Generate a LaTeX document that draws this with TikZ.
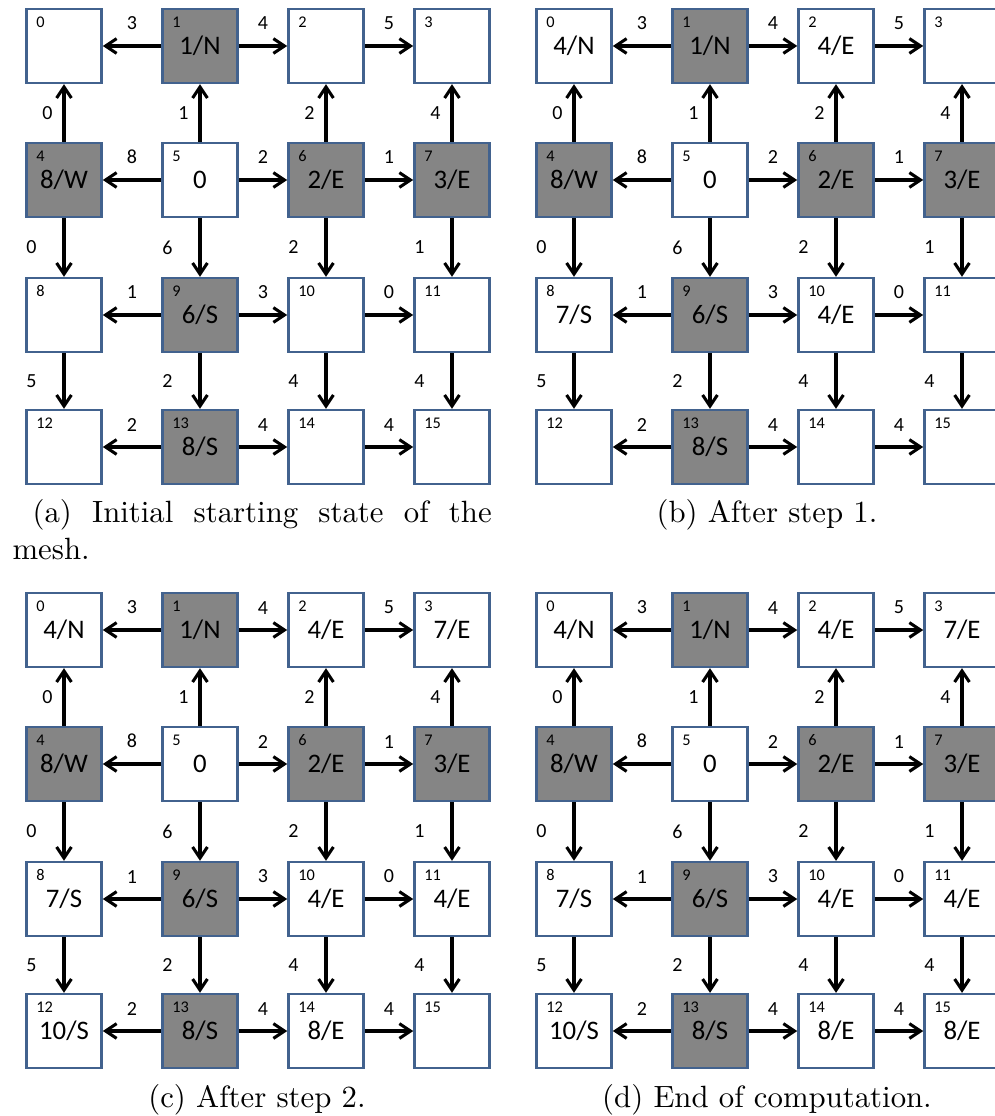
\documentclass[tikz,border=0pt]{standalone}
\usepackage{fontspec}
\newfontfamily\cellfont{Carlito}
\usetikzlibrary{arrows.meta}

\definecolor{cellblue}{HTML}{42628E}
\definecolor{cellgray}{HTML}{858585}

\tikzset{
  cell/.style={draw=cellblue, line width=0.8pt, minimum width=24.4pt,
    minimum height=24pt, inner sep=0pt,
    font=\cellfont\fontsize{8.7}{10}\selectfont},
  idle/.style={cell, fill=white},
  busy/.style={cell, fill=cellgray},
  idx/.style={anchor=north west, inner sep=0pt,
    font=\cellfont\fontsize{5.3}{6}\selectfont},
  wgt/.style={inner sep=0pt, font=\cellfont\fontsize{6.5}{8}\selectfont},
  flow/.style={line width=1pt, -{Straight Barb[length=3.6pt,width=4.8pt]}},
  subcap/.style={inner sep=0pt, font=\fontsize{10}{12}\selectfont}
}

% one 4x4 mesh: name prefix, shift, list of cell style/label
\newcommand{\meshpanel}[4]{%
  \begin{scope}[shift={(#2,#3)}]
    \foreach \s/\lab [count=\i from 0] in {#4} {
      \pgfmathsetmacro\cx{{64,200,326,452}[mod(\i,4)]}
      \pgfmathsetmacro\cy{{46,180,315,447}[int(\i/4)]}
      \node[\s] (#1\i) at (\cx,\cy) {\lab};
      \node[idx] (#1i\i) at ([shift={(3.4pt,-2.7pt)}]#1\i.north west) {\i};
    }
    % east/west links
    \foreach \f/\t/\w in {1/0/3,1/2/4,2/3/5,5/4/8,5/6/2,6/7/1,9/8/1,9/10/3,
        10/11/0,13/12/2,13/14/4,14/15/4}
      \draw[flow] (#1\f) -- (#1\t) node[wgt, midway, above=4.7pt] {\w};
    % north links
    \foreach \f/\t/\w in {4/0/0,5/1/1,6/2/2,7/3/4}
      \draw[flow] (#1\f) -- (#1\t) node[wgt, midway, left=3.2pt] {\w};
    % south links
    \foreach \f/\t/\w in {4/8/0,5/9/6,6/10/2,7/11/1,8/12/5,9/13/2,10/14/4,11/15/4}
      \draw[flow] (#1\f) -- (#1\t) node[wgt, midway, left=8.4pt] {\w};
  \end{scope}
}

\begin{document}
\begin{tikzpicture}[x=0.325pt, y=-0.325pt]
  \useasboundingbox (0,0) rectangle (995,1116);

  \meshpanel{a}{0}{0}{idle/{}, busy/{1/N}, idle/{}, idle/{},
    busy/{8/W}, idle/0, busy/{2/E}, busy/{3/E},
    idle/{}, busy/{6/S}, idle/{}, idle/{},
    idle/{}, busy/{8/S}, idle/{}, idle/{}}
  \meshpanel{b}{510}{0}{idle/{4/N}, busy/{1/N}, idle/{4/E}, idle/{},
    busy/{8/W}, idle/0, busy/{2/E}, busy/{3/E},
    idle/{7/S}, busy/{6/S}, idle/{4/E}, idle/{},
    idle/{}, busy/{8/S}, idle/{}, idle/{}}
  \meshpanel{c}{0}{584}{idle/{4/N}, busy/{1/N}, idle/{4/E}, idle/{7/E},
    busy/{8/W}, idle/0, busy/{2/E}, busy/{3/E},
    idle/{7/S}, busy/{6/S}, idle/{4/E}, idle/{4/E},
    idle/{10/S}, busy/{8/S}, idle/{8/E}, idle/{}}
  \meshpanel{d}{510}{584}{idle/{4/N}, busy/{1/N}, idle/{4/E}, idle/{7/E},
    busy/{8/W}, idle/0, busy/{2/E}, busy/{3/E},
    idle/{7/S}, busy/{6/S}, idle/{4/E}, idle/{4/E},
    idle/{10/S}, busy/{8/S}, idle/{8/E}, idle/{8/E}}

  \node[subcap, text width=155.7pt, align=justify, anchor=north west] (capa)
    at (12,499) {\hspace*{6.5pt}(a) Initial starting state of the mesh.};
  \node[subcap, anchor=base] (capb) at (767,522) {(b) After step 1.};
  \node[subcap, anchor=base] (capc) at (257,1107) {(c) After step 2.};
  \node[subcap, anchor=base] (capd) at (767,1107) {(d) End of computation.};
\end{tikzpicture}
\end{document}
